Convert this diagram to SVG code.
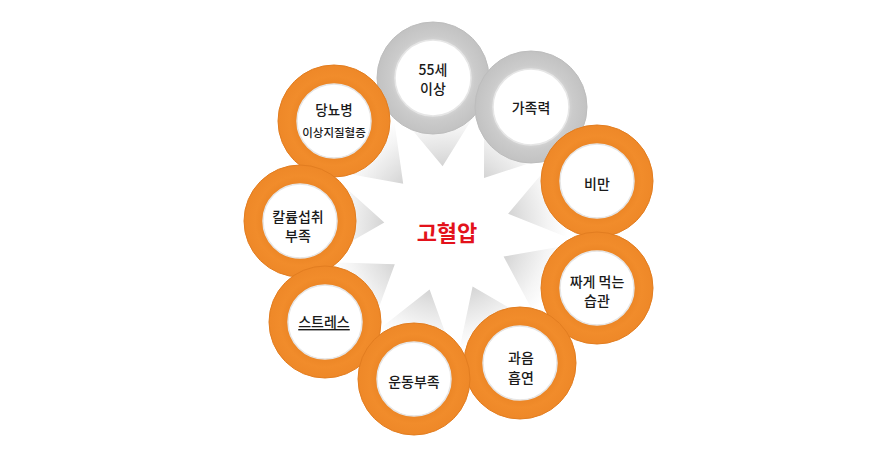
<svg xmlns="http://www.w3.org/2000/svg" width="894" height="455" viewBox="0 0 894 455">
<defs>
<radialGradient id="glow" cx="447" cy="229" r="140" gradientUnits="userSpaceOnUse">
<stop offset="0.42" stop-color="#d0d0d0"/>
<stop offset="0.56" stop-color="#e2e2e2"/>
<stop offset="0.72" stop-color="#f4f4f4"/>
<stop offset="0.86" stop-color="#ffffff"/>
</radialGradient>
<radialGradient id="greyRing" r="0.5" cx="0.5" cy="0.5">
<stop offset="0.66" stop-color="#d6d6d6"/>
<stop offset="0.75" stop-color="#cbcbcb"/>
<stop offset="1" stop-color="#c2c2c2"/>
</radialGradient>
<radialGradient id="orangeRing" r="0.5" cx="0.5" cy="0.5">
<stop offset="0.66" stop-color="#ec8626"/>
<stop offset="0.8" stop-color="#f18c2b"/>
<stop offset="1" stop-color="#ee8828"/>
</radialGradient>
</defs>
<style>
.og{fill:url(#orangeRing);stroke:#e27d20;stroke-width:1}
.gr{fill:url(#greyRing);stroke:#bdbdbd;stroke-width:1}
.in{fill:#ffffff;stroke:#e6e6e6;stroke-width:1.5}
.t{font-family:"Noto Sans CJK KR","Noto Sans",sans-serif;font-size:14px;font-weight:500;fill:#1a1a1a;text-anchor:middle;dominant-baseline:central}
.s{font-size:11.5px}
.c{font-family:"Noto Sans CJK KR","Noto Sans",sans-serif;font-size:22px;font-weight:700;fill:#e3121b;text-anchor:middle;dominant-baseline:central}
</style>
<rect width="894" height="455" fill="#ffffff"/>
<g id="center">
<circle cx="447" cy="229" r="140" fill="url(#glow)"/>
<polygon transform="translate(447,229)" fill="#ffffff" points="-4.4,-62.8 37.2,-129.8 37,-51 111.9,-75.5 61.1,-15.2 134.3,14.1 56.6,27.6 93.8,97.1 25.6,57.6 9.4,134.7 -17.4,60.6 -79.4,109.2 -52.2,35.2 -131,32.7 -62.7,-6.6 -121.3,-59.2 -43.8,-45.3 -54.9,-123.3"/>
<text class="c" x="447" y="231">고혈압</text>
</g>
<g id="n55">
<circle class="gr" cx="433" cy="78" r="56"/>
<circle class="in" cx="433" cy="78" r="38"/>
<text class="t" x="433" y="69">55세</text>
<text class="t" x="433" y="88">이상</text>
</g>
<g id="family">
<circle class="gr" cx="531" cy="107" r="56"/>
<circle class="in" cx="531" cy="107" r="38"/>
<text class="t" x="531" y="107">가족력</text>
</g>
<g id="obesity">
<circle class="og" cx="597" cy="181" r="56"/>
<circle class="in" cx="597" cy="181" r="37"/>
<text class="t" x="597" y="183">비만</text>
</g>
<g id="salty">
<circle class="og" cx="597" cy="288" r="56"/>
<circle class="in" cx="597" cy="288" r="37"/>
<text class="t" x="597" y="281">짜게 먹는</text>
<text class="t" x="597" y="300">습관</text>
</g>
<g id="diabetes">
<circle class="og" cx="334" cy="121" r="56"/>
<circle class="in" cx="334" cy="121" r="37"/>
<text class="t" x="334" y="109" style="font-size:13.5px">당뇨병</text>
<text class="t s" x="334" y="132">이상지질혈증</text>
</g>
<g id="potassium">
<circle class="og" cx="300" cy="221" r="56"/>
<circle class="in" cx="300" cy="221" r="37"/>
<text class="t" x="298" y="216">칼륨섭취</text>
<text class="t" x="298" y="235">부족</text>
</g>
<g id="stress">
<circle class="og" cx="325" cy="322" r="56"/>
<circle class="in" cx="325" cy="322" r="37"/>
<text class="t" x="324" y="321" text-decoration="underline">스트레스</text>
</g>
<g id="drink">
<circle class="og" cx="520" cy="363" r="56"/>
<circle class="in" cx="520" cy="363" r="37"/>
<text class="t" x="521" y="357">과음</text>
<text class="t" x="521" y="377">흡연</text>
</g>
<g id="exercise">
<circle class="og" cx="414" cy="379" r="56"/>
<circle class="in" cx="414" cy="379" r="37"/>
<text class="t" x="414" y="381">운동부족</text>
</g>
<g id="connectors"></g>
</svg>
